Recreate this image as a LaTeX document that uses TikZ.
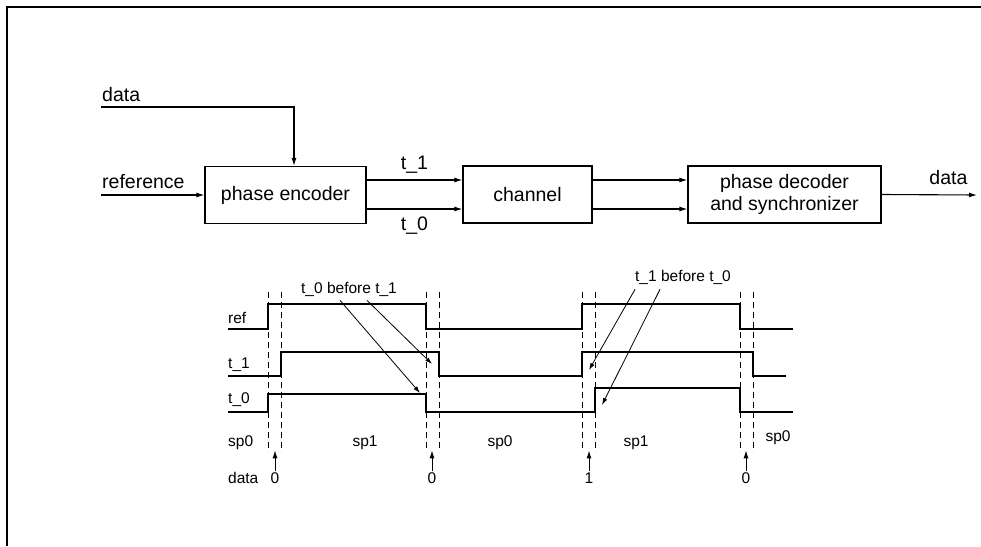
\documentclass[tikz,border=0pt]{standalone}
\usepackage{fontspec}
\setmainfont{Liberation Sans}
\usetikzlibrary{arrows.meta,positioning,calc}

\begin{document}
\begin{tikzpicture}[x=1pt, y=-1pt,
  block/.style={rectangle, draw, line width=1.2pt, minimum height=57pt, font=\fontsize{19.5}{22}\selectfont, align=center},
  txt/.style={font=\fontsize{19.5}{22}\selectfont, inner sep=0pt},
  lbl/.style={font=\fontsize{15.5}{17}\selectfont, inner sep=0pt},
  flow/.style={-{Latex[length=8pt,width=5pt]}, line width=1.1pt},
  note/.style={-{Latex[length=7pt,width=4.5pt]}, line width=0.8pt},
  sig/.style={line width=1.3pt},
  guide/.style={dashed, dash pattern=on 6pt off 4pt, line width=1pt}
]
\useasboundingbox (0,0) rectangle (981,546);
\draw[line width=1.8pt] (7,546) -- (7,7) -- (981,7);

% block diagram
\node[block, minimum width=161pt] (enc) at (285.5,195) {phase encoder};
\node[block, minimum width=129pt] (chan) at (527.5,194.5) {channel};
\node[block, minimum width=193pt] (dec) at (784.5,194.5) {phase decoder\\and synchronizer};
\node[txt, anchor=west] (din) at (102,95) {data};
\node[txt, anchor=west] (refin) at (102,182) {reference};
\coordinate (dsrc) at (101,107);
\coordinate (rsrc) at (101,195);
\coordinate (dout) at (977,195);

\draw[flow] (dsrc) -| ($(enc.north)+(8.5,0)$);
\draw[flow] (rsrc) -- (enc.west);
\draw[flow] (enc.east |- 0,180) -- (chan.west |- 0,180) node[txt, midway, above=6pt] {t\_1};
\draw[flow] (enc.east |- 0,209) -- (chan.west |- 0,209) node[txt, midway, below=7pt] {t\_0};
\draw[flow] (chan.east |- 0,180) -- (dec.west |- 0,180);
\draw[flow] (chan.east |- 0,209) -- (dec.west |- 0,209);
\draw[flow] (dec.east) -- (dout) node[txt, pos=0.7, above=10pt] {data};

% timing diagram
\foreach \x in {268,281,426,439,582,595,740,753}
  \draw[guide] (\x,292) -- (\x,452);
\draw[sig] (228,329) -- (268,329) -- (268,304) -- (426,304) -- (426,329) -- (582,329)
  -- (582,304) -- (740,304) -- (740,329) -- (793,329);
\draw[sig] (228,376) -- (281,376) -- (281,352) -- (439,352) -- (439,376) -- (582,376)
  -- (582,352) -- (753,352) -- (753,376) -- (786,376);
\draw[sig] (228,412) -- (268,412) -- (268,394) -- (426,394) -- (426,412) -- (595,412)
  -- (595,388) -- (740,388) -- (740,412) -- (793,412);

\node[lbl, anchor=west] (lref) at (228,318) {ref};
\node[lbl, anchor=west] (lt1) at (228,365) {t\_1};
\node[lbl, anchor=west] (lt0) at (228,400) {t\_0};
\node[lbl, anchor=west] (sa) at (228,443) {sp0};
\node[lbl] (sb) at (365,443) {sp1};
\node[lbl] (sc) at (500,443) {sp0};
\node[lbl] (sd) at (636,443) {sp1};
\node[lbl] (se) at (778,438) {sp0};
\node[lbl, anchor=west] (ldata) at (228,478) {data};
\node[lbl] (da) at (275,478) {0};
\node[lbl] (db) at (432,478) {0};
\node[lbl] (dc) at (589,478) {1};
\node[lbl] (dd) at (746,478) {0};
\foreach \n in {da,db,dc,dd}
  \draw[flow, line width=1pt] ($(\n.north)+(0,-1)$) -- ($(\n.north)+(0,-22)$);

% annotations
\node[lbl] (ann1) at (349,289) {t\_0 before t\_1};
\node[lbl] (ann2) at (683,277) {t\_1 before t\_0};
\coordinate (tip01) at (420,393);
\coordinate (tip02) at (432,364);
\coordinate (tip11) at (589,370);
\coordinate (tip12) at (602,405);
\draw[note] ($(ann1.south)+(-9,4)$) -- (tip01);
\draw[note] ($(ann1.south)+(18,4)$) -- (tip02);
\draw[note] ($(ann2.south)+(-48,5)$) -- (tip11);
\draw[note] ($(ann2.south)+(-23,5)$) -- (tip12);
\end{tikzpicture}
\end{document}
